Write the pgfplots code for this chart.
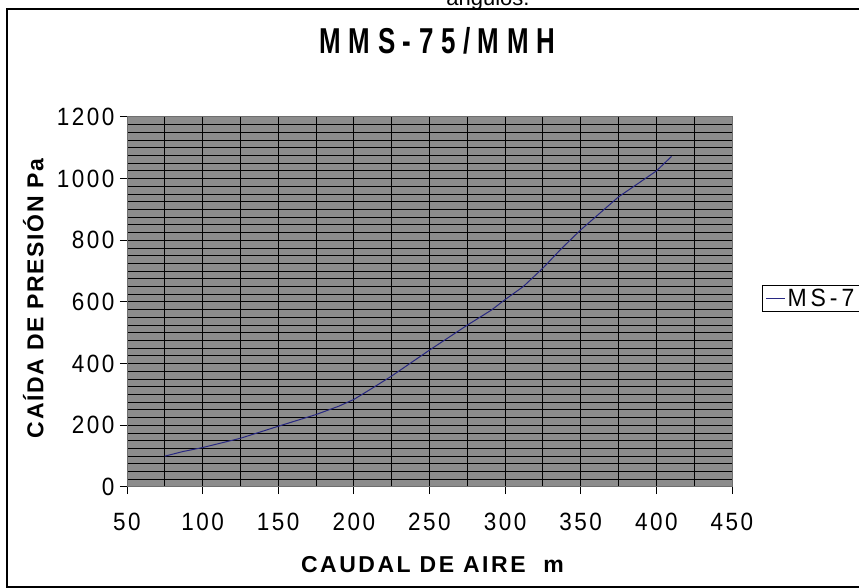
\documentclass[border=0pt]{standalone}
\usepackage{fontspec}
\usepackage{pgfplots}
\pgfplotsset{compat=1.18}
\setmainfont{Liberation Sans}
\newfontfamily\tickfont[LetterSpace=10,FakeStretch=0.9]{Liberation Sans}
\newfontfamily\legfont[LetterSpace=16,FakeStretch=0.92]{Liberation Sans}
\newfontfamily\xlabfont[LetterSpace=11]{Liberation Sans}
\newfontfamily\ylabfont[LetterSpace=7]{Liberation Sans}
\newfontfamily\titfont[LetterSpace=21,FakeStretch=0.72]{Liberation Sans}
\definecolor{plotbg}{RGB}{140,140,140}
\definecolor{curve}{RGB}{40,40,130}
\definecolor{axgray}{RGB}{110,110,110}
\begin{document}
\begin{tikzpicture}
\useasboundingbox (0,0) rectangle (859bp,588bp);
\draw[line width=1.3bp,black] (7bp,1bp) rectangle (900bp,579bp);
\node[anchor=base,font=\fontsize{22bp}{24bp}\selectfont] at (488bp,582.5bp) {ángulos.};
\begin{axis}[
  at={(127bp,101bp)}, anchor=south west,
  scale only axis, width=605bp, height=370bp,
  xmin=50, xmax=450, ymin=0, ymax=1200,
  xtick={50,100,...,450}, ytick={0,200,...,1200},
  minor x tick num=1, minor y tick num=7,
  grid=both,
  major grid style={black,line width=1bp},
  minor grid style={black,line width=1bp},
  axis background/.style={fill=plotbg},
  axis line style={axgray,line width=1bp},
  tick align=outside, xtick pos=left, ytick pos=left,
  major tick length=7bp, minor tick length=0pt,
  tick style={black,line width=1bp},
  /pgf/number format/assume math mode=true,
  /pgf/number format/1000 sep={},
  ticklabel style={font=\tickfont\fontsize{25bp}{30bp}\selectfont},
  xticklabel style={yshift=-16bp},
  yticklabel style={xshift=-2bp},
  xlabel={CAUDAL DE AIRE\ \ m},
  ylabel={CAÍDA DE PRESIÓN Pa},
  xlabel style={font=\xlabfont\bfseries\fontsize{23bp}{27bp}\selectfont, at={(axis description cs:0.505,-0.211)}, anchor=center},
  ylabel style={font=\ylabfont\bfseries\fontsize{23bp}{27bp}\selectfont, at={(axis description cs:-0.155,0.51)}, anchor=center},
  title={MMS-75/MMH},
  title style={font=\titfont\bfseries\fontsize{36bp}{40bp}\selectfont, at={(axis description cs:0.513,1.189)}, anchor=center},
  legend style={at={(1.0496,0.546)}, anchor=north west, draw=black, line width=1bp, fill=white,
    font=\legfont\fontsize{25bp}{30bp}\selectfont, inner xsep=3bp, inner ysep=1.5bp},
  legend image code/.code={\draw[#1] (0bp,0bp) -- (19bp,0bp);},
]
\addplot[curve, line width=1bp] coordinates {
(75,100) (87,115) (100,128) (125,158) (150,197) (175,235) (190,262) (200,284)
(212,320) (225,360) (250,444) (275,525) (291,574) (300,608) (312,650) (325,710)
(337,772) (350,834) (375,941) (400,1025) (410,1072)
};
\addlegendentry{MS-75}
\end{axis}
\end{tikzpicture}
\end{document}
